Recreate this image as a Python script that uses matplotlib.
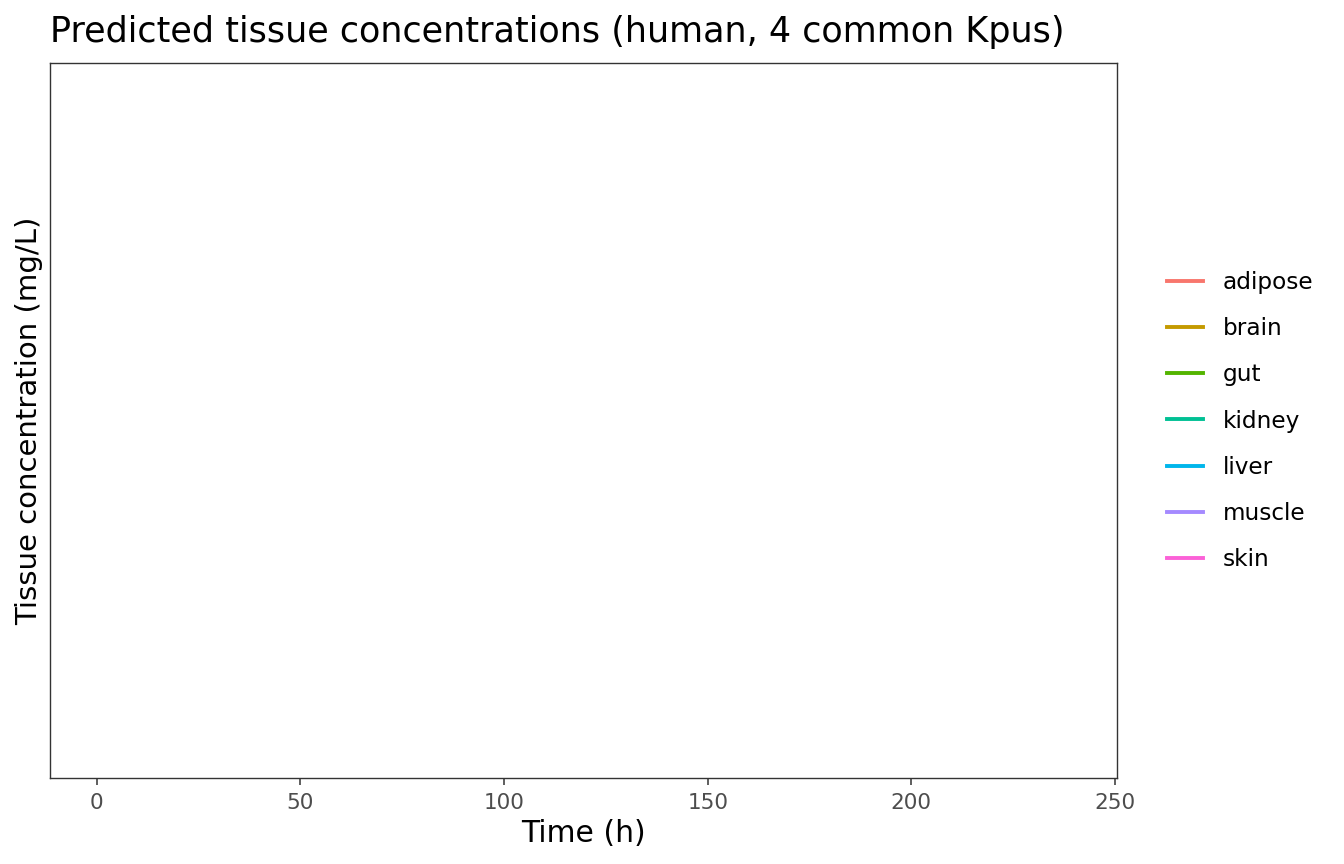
import numpy as np
import matplotlib
matplotlib.use("Agg")
import matplotlib.pyplot as plt

nan = np.nan

# time grid of the simulation (h); predicted concentrations came out empty (NA)
time_h = [0, 24, 48, 72, 96, 120, 144, 168, 192, 216, 240]
tissues = ["adipose", "brain", "gut", "kidney", "liver", "muscle", "skin"]
adipose = [nan] * len(time_h)
brain = [nan] * len(time_h)
gut = [nan] * len(time_h)
kidney = [nan] * len(time_h)
liver = [nan] * len(time_h)
muscle = [nan] * len(time_h)
skin = [nan] * len(time_h)
conc = [adipose, brain, gut, kidney, liver, muscle, skin]
colors = ["#F8766D", "#C49A00", "#53B400", "#00C094", "#00B6EB", "#A58AFF", "#FB61D7"]
xticks = [0, 50, 100, 150, 200, 250]

fig = plt.figure(figsize=(13.44, 8.64), dpi=100)
ax = fig.add_axes([50 / 1344, 1 - 778 / 864, (1117 - 50) / 1344, (778 - 63) / 864])

for name, y, c in zip(tissues, conc, colors):
    ax.plot(time_h, y, color=c, lw=2.8, label=name)

ax.set_xlim(-11.5, 250.5)
ax.set_ylim(0, 1)
ax.set_xticks(xticks)
ax.set_yticks([])
ax.tick_params(axis="x", length=5, width=1.1, color="#333333", labelsize=15.5,
               labelcolor="#4D4D4D", pad=6)
for s in ax.spines.values():
    s.set_color("#333333")
    s.set_linewidth(1.0)

ax.set_xlabel("Time (h)", fontsize=21.5, labelpad=4)
ax.set_ylabel("Tissue concentration (mg/L)", fontsize=21, labelpad=5)
ax.set_title("Predicted tissue concentrations (human, 4 common Kpus)", fontsize=25.2,
             loc="left", pad=15)
ax.title.set_x(0.0)

leg = fig.legend(loc="center left", bbox_to_anchor=(1167 / 1344, 1 - 421 / 864),
                 frameon=False, fontsize=16.7, handlelength=1.55, handletextpad=0.85,
                 labelspacing=1.0, borderpad=0, borderaxespad=0)

fig.savefig("out.png", dpi=100)
